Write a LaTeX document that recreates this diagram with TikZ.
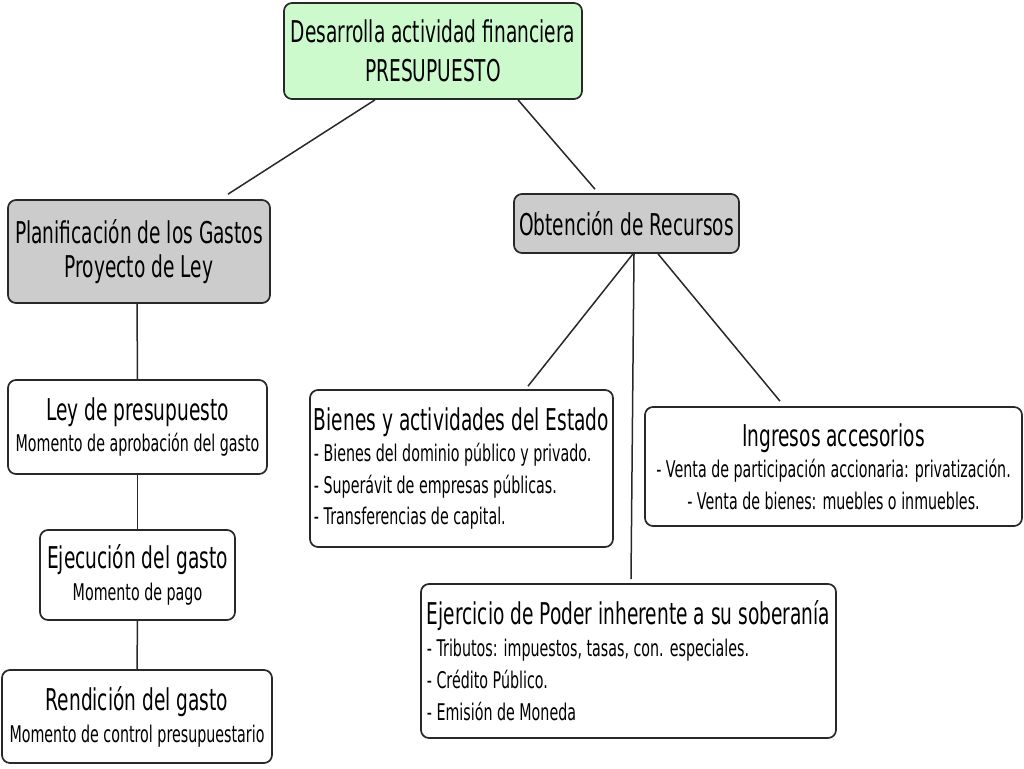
\documentclass[tikz,border=0pt]{standalone}
\usepackage{fontspec}
\setmainfont[FakeStretch=0.62]{DejaVu Sans}
\usepackage{tikz}
\usetikzlibrary{calc}
\definecolor{verdeclaro}{RGB}{204,250,204}
\definecolor{grisclaro}{RGB}{204,204,204}
\definecolor{borde}{RGB}{40,40,40}
\newcommand{\tam}{\fontsize{30}{36}\selectfont}
\newcommand{\itm}{\fontsize{23}{31.5}\selectfont}

\begin{document}
\begin{tikzpicture}[x=1pt, y=-1pt,
		caja/.style={draw=borde, line width=1.7pt, rounded corners=8pt, fill=white, inner sep=0pt, align=center},
		enlace/.style={draw=borde, line width=1.5pt}]
		%%%%% START %%%%%
		
		\useasboundingbox[fill=white] (0, 0) rectangle (1024, 768);
		
		\node[caja, fill=verdeclaro, minimum width=298, minimum height=96, font=\fontsize{30}{39}\selectfont] (raiz) at (433, 51) {Desarrolla actividad financiera\\PRESUPUESTO};
		
		\node[caja, fill=grisclaro, minimum width=262, minimum height=103, font=\fontsize{30}{34}\selectfont] (plan) at (139, 251.5) {Planificación de los Gastos\\Proyecto de Ley};
		\node[caja, fill=grisclaro, minimum width=225, minimum height=59, font=\tam] (obt) at (626.5, 223.5) {Obtención de Recursos};
		
		\node[caja, minimum width=259, minimum height=94, font=\fontsize{23}{31}\selectfont] (ley) at (137.5, 427) {{\tam Ley de presupuesto}\\Momento de aprobación del gasto};
		\node[caja, minimum width=195, minimum height=90, font=\fontsize{23}{32}\selectfont] (ejec) at (137.5, 575) {{\tam Ejecución del gasto}\\Momento de pago};
		\node[caja, minimum width=270, minimum height=93, font=\fontsize{23}{32}\selectfont] (rend) at (137, 716.5) {{\tam Rendición del gasto}\\Momento de control presupuestario};
		
		\node[caja, minimum width=303, minimum height=157, align=left, font=\itm] (bienes) at (461.5, 468.5) {{\tam Bienes y actividades del Estado}\\- Bienes del dominio público y privado.\\- Superávit de empresas públicas.\\- Transferencias de capital.};
		\node[caja, minimum width=377, minimum height=119, font=\itm] (ingr) at (833.5, 466.5) {{\tam Ingresos accesorios}\\- Venta de participación accionaria: privatización.\\- Venta de bienes: muebles o inmuebles.};
		\node[caja, minimum width=415, minimum height=154, align=left, font=\fontsize{23}{32}\selectfont] (ejer) at (628.5, 661) {{\tam Ejercicio de Poder inherente a su soberanía}\\- Tributos: impuestos, tasas, con. especiales.\\- Crédito Público.\\- Emisión de Moneda};
		
		\draw[enlace] ([xshift=-58]raiz.south) -- ([xshift=89, yshift=5]plan.north);
		\draw[enlace] ([xshift=85]raiz.south) -- ([xshift=-31.5, yshift=4]obt.north);
		
		\draw[enlace] ([xshift=-2]plan.south) -- (ley.north);
		\draw[enlace] (ley.south) -- (ejec.north);
		\draw[enlace] (ejec.south) -- (rend.north);
		
		\draw[enlace] ([xshift=6.5]obt.south) -- ([xshift=66.5, yshift=3]bienes.north);
		\draw[enlace] ([xshift=7.5]obt.south) -- ([xshift=2.5, yshift=4]ejer.north);
		\draw[enlace] ([xshift=31.5]obt.south) -- ([xshift=-53.5, yshift=5]ingr.north);
		
		%%%%% END %%%%%
	\end{tikzpicture}
\end{document}
